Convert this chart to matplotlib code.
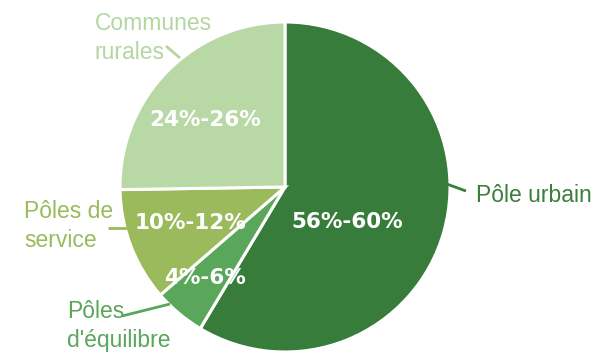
import matplotlib
matplotlib.use("Agg")
import matplotlib.pyplot as plt

categories = ["Pôle urbain", "Pôles\nd'équilibre", "Pôles de\nservice", "Communes\nrurales"]
shares = [58, 5, 11, 25]
range_labels = ["56%-60%", "4%-6%", "10%-12%", "24%-26%"]
colors = ["#377C3A", "#5AA65A", "#9BBA5B", "#B8D9A5"]
text_colors = ["#3A7D3C", "#5AA65A", "#9BBA5B", "#B5D6A0"]

W, H = 598, 354
fig = plt.figure(figsize=(W / 100, H / 100), dpi=100)
ax = fig.add_axes([0, 0, 1, 1])

cx, cy, r = 285, H - 187, 165
ax.pie(shares, colors=colors, startangle=90, counterclock=False,
       center=(cx, cy), radius=r, frame=True,
       wedgeprops=dict(edgecolor="white", linewidth=2.2))
ax.set_xlim(0, W)
ax.set_ylim(0, H)
ax.set_aspect("equal")
ax.axis("off")

fam = ["Liberation Sans", "DejaVu Sans"]

# range labels inside slices
pct_pos = [(347, 222), (205, 278), (190, 223), (205, 120)]
for lab, (x, y) in zip(range_labels, pct_pos):
    ax.text(x, H - y, lab, color="white", fontsize=15.5, fontweight="bold",
            ha="center", va="center", family=["DejaVu Sans"])

# category labels with leader lines
lab_pos = [(476, 202, "baseline"), (67, 326, "center"), (24, 226, "center"), (95, 38, "center")]
leaders = [((170, 304), (122, 316)), ((128, 228), (108, 228)),
           ((180, 58), (166, 46))]
leaders = [((444, 183), (466, 191))] + leaders
for cat, (x, y, va), tc, (p0, p1) in zip(categories, lab_pos, text_colors, leaders):
    ax.text(x, H - y, cat, color=tc, fontsize=16.5, ha="left", va=va,
            linespacing=1.28, family=fam)
    ax.plot([p0[0], p1[0]], [H - p0[1], H - p1[1]], color=tc, lw=2,
            solid_capstyle="butt")

fig.savefig("out.png", dpi=100)
